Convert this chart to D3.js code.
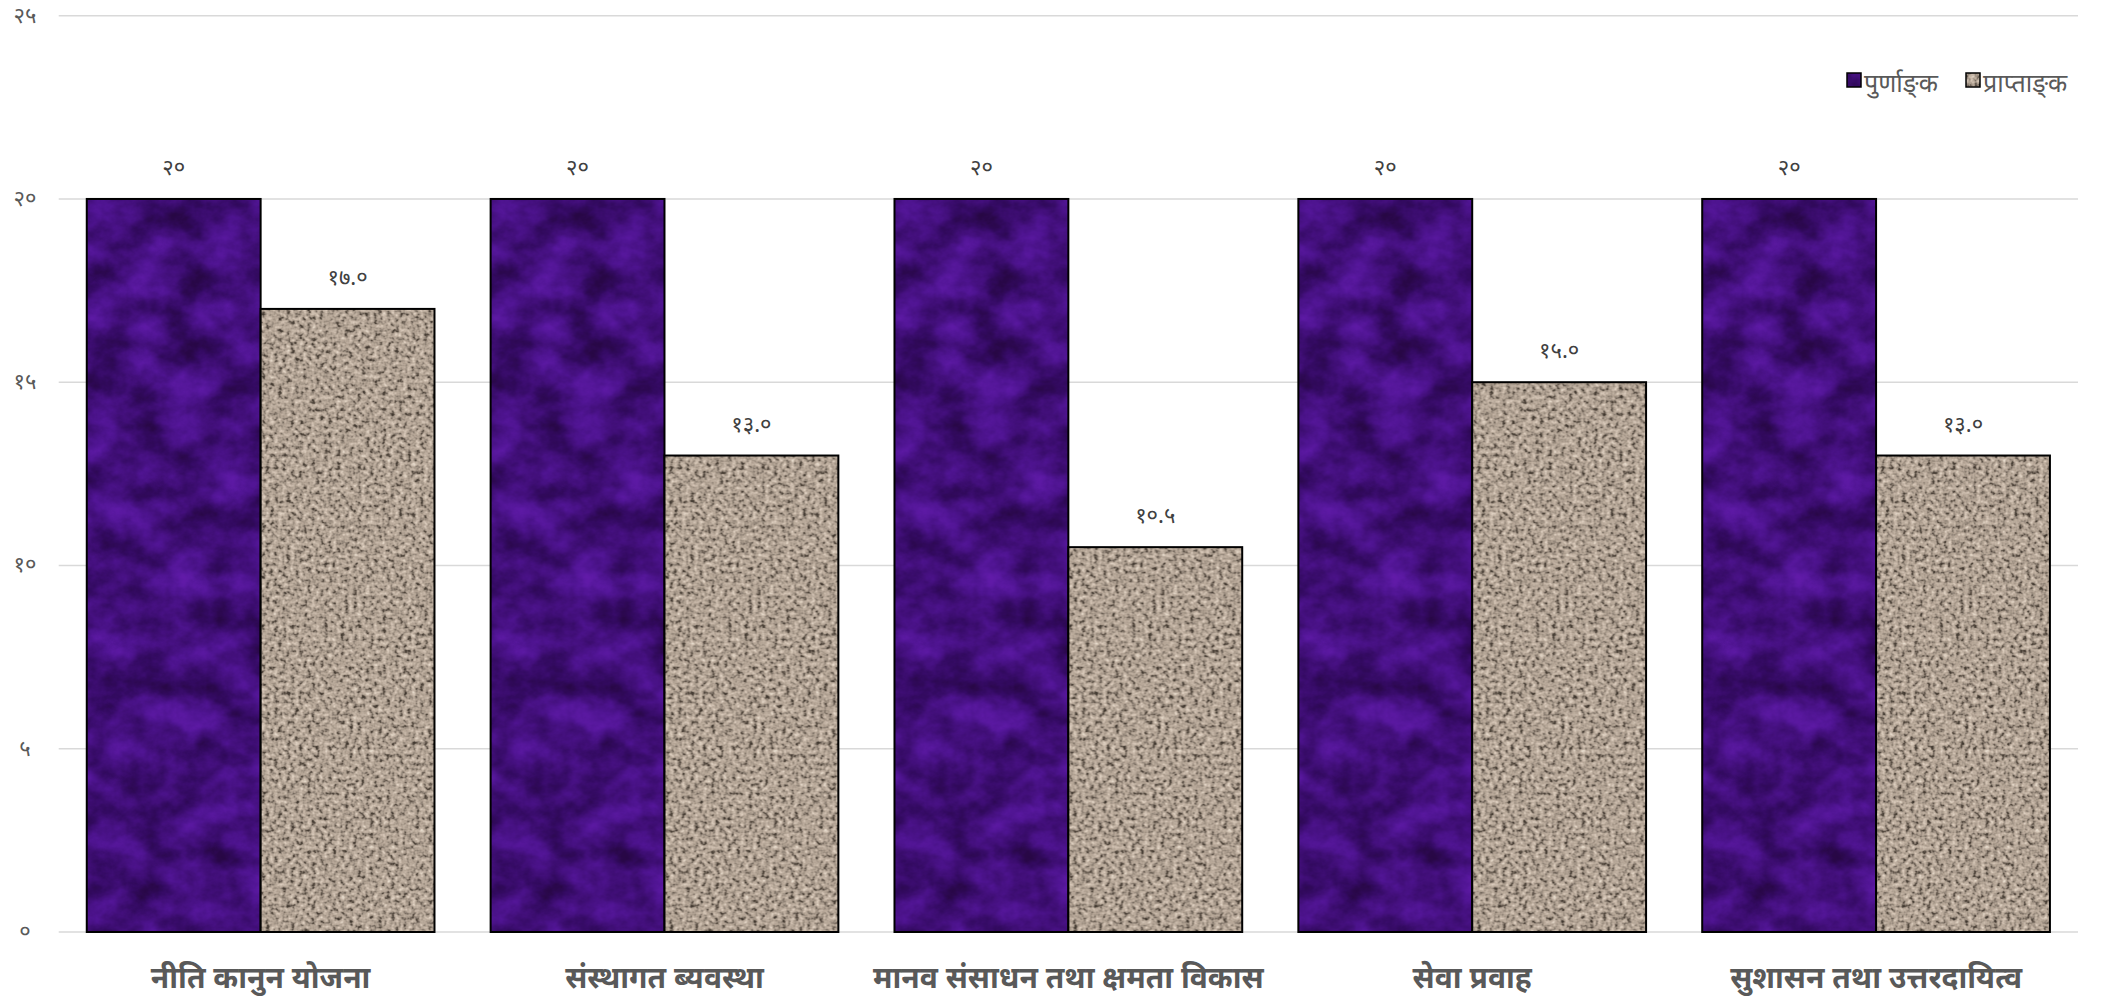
<!DOCTYPE html>
<html>
<head>
<meta charset="utf-8">
<script src="https://cdn.jsdelivr.net/npm/d3@7"></script>
<style>
  html, body { margin: 0; padding: 0; background: #fff; }
  svg { display: block; }
  text { font-family: "Noto Sans", "Noto Sans Devanagari", sans-serif; fill: #595959; }
</style>
</head>
<body>
<div class="barChart"></div>
<script>
// chart values
const categories = ["नीति कानुन योजना", "संस्थागत ब्यवस्था", "मानव संसाधन तथा क्षमता विकास", "सेवा प्रवाह", "सुशासन तथा उत्तरदायित्व"];
// ZWNJ keeps the halant visible as in the original
const seriesNames = ["पुर्णाङ्\u200Cक", "प्राप्ताङ्\u200Cक"];
const fullMarks = [20, 20, 20, 20, 20];
const obtainedMarks = [17.0, 13.0, 10.5, 15.0, 13.0];
const yTicks = [0, 5, 10, 15, 20, 25];
const yTickLabels = ["०", "५", "१०", "१५", "२०", "२५"];

const devDigits = "०१२३४५६७८९";
const toDev = (s) => String(s).replace(/[0-9]/g, (d) => devDigits[+d]);

const width = 2106, height = 1003;
const margin = {top: 15.7, bottom: 71, left: 58.7, right: 28};

const svg = d3.select(".barChart")
  .append("svg")
    .attr("width", width)
    .attr("height", height);

// textures
const defs = svg.append("defs");

const marble = defs.append("filter").attr("id", "marbleFx")
  .attr("x", 0).attr("y", 0).attr("width", 1).attr("height", 1)
  .attr("color-interpolation-filters", "sRGB");
marble.append("feTurbulence").attr("type", "fractalNoise")
  .attr("baseFrequency", "0.025 0.03").attr("numOctaves", 5).attr("seed", 11);
marble.append("feColorMatrix").attr("type", "matrix")
  .attr("values", "1 0 0 0 0  1 0 0 0 0  1 0 0 0 0  0 0 0 0 1");
const mct = marble.append("feComponentTransfer");
mct.append("feFuncR").attr("type", "table").attr("tableValues", "0.14 0.16 0.20 0.26 0.31 0.36 0.40");
mct.append("feFuncG").attr("type", "table").attr("tableValues", "0.03 0.03 0.04 0.06 0.08 0.10 0.11");
mct.append("feFuncB").attr("type", "table").attr("tableValues", "0.24 0.28 0.38 0.48 0.57 0.64 0.68");

const granite = defs.append("filter").attr("id", "graniteFx")
  .attr("x", 0).attr("y", 0).attr("width", 1).attr("height", 1)
  .attr("color-interpolation-filters", "sRGB");
granite.append("feTurbulence").attr("type", "fractalNoise")
  .attr("baseFrequency", "0.24").attr("numOctaves", 2).attr("seed", 3);
granite.append("feColorMatrix").attr("type", "matrix")
  .attr("values", "1 0 0 0 0  1 0 0 0 0  1 0 0 0 0  0 0 0 0 1");
const gct = granite.append("feComponentTransfer");
gct.append("feFuncR").attr("type", "table").attr("tableValues", "0.24 0.24 0.32 0.57 0.70 0.76 0.84 0.90 0.90");
gct.append("feFuncG").attr("type", "table").attr("tableValues", "0.21 0.21 0.28 0.52 0.64 0.70 0.78 0.86 0.86");
gct.append("feFuncB").attr("type", "table").attr("tableValues", "0.18 0.18 0.24 0.47 0.58 0.64 0.72 0.80 0.80");

const makePattern = (id, filterId) => {
  const p = defs.append("pattern").attr("id", id)
    .attr("patternUnits", "userSpaceOnUse")
    .attr("width", width).attr("height", height);
  p.append("rect").attr("width", width).attr("height", height)
    .attr("fill", "#fff")
    .attr("filter", `url(#${filterId})`);
};
makePattern("marble", "marbleFx");
makePattern("granite", "graniteFx");
const fills = ["url(#marble)", "url(#granite)"];

// scales
const x0 = d3.scaleBand()
  .domain(categories)
  .range([margin.left, width - margin.right])
  .paddingInner(0.139)
  .paddingOuter(0.0695);

const x1 = d3.scaleBand()
  .domain([0, 1])
  .range([0, x0.bandwidth()]);

const y = d3.scaleLinear()
  .domain([0, 25])
  .range([height - margin.bottom, margin.top]);

// gridlines
svg.append("g")
  .selectAll("line")
  .data(yTicks)
  .join("line")
    .attr("x1", margin.left)
    .attr("x2", width - margin.right)
    .attr("y1", (d) => y(d))
    .attr("y2", (d) => y(d))
    .attr("stroke", "#d9d9d9")
    .attr("stroke-width", 1.5);

// y axis labels
svg.append("g")
  .selectAll("text")
  .data(yTicks)
  .join("text")
    .attr("x", 25)
    .attr("y", (d) => y(d) + 7)
    .attr("text-anchor", "middle")
    .attr("font-size", 22)
    .text((d, i) => yTickLabels[i]);

// bars
const rows = categories.map((c, i) => ({cat: c, vals: [fullMarks[i], obtainedMarks[i]]}));

const groups = svg.append("g")
  .selectAll("g")
  .data(rows)
  .join("g")
    .attr("transform", (d) => `translate(${x0(d.cat)},0)`);

groups.selectAll("rect")
  .data((d) => d.vals.map((v, k) => ({k: k, v: v})))
  .join("rect")
    .attr("x", (d) => x1(d.k))
    .attr("y", (d) => y(d.v))
    .attr("width", x1.bandwidth())
    .attr("height", (d) => y(0) - y(d.v))
    .attr("fill", (d) => fills[d.k])
    .attr("stroke", "#000")
    .attr("stroke-width", 2);

// data labels
groups.selectAll("text.val")
  .data((d) => d.vals.map((v, k) => ({k: k, v: v})))
  .join("text")
    .attr("class", "val")
    .attr("x", (d) => x1(d.k) + x1.bandwidth() / 2)
    .attr("y", (d) => y(d.v) - 24)
    .attr("text-anchor", "middle")
    .attr("font-size", 22)
    .style("fill", "#404040")
    .text((d) => toDev(d.k === 0 ? d.v : d.v.toFixed(1)));

// x axis labels
svg.append("g")
  .selectAll("text")
  .data(categories)
  .join("text")
    .attr("x", (d) => x0(d) + x0.bandwidth() / 2)
    .attr("y", 988)
    .attr("text-anchor", "middle")
    .attr("font-size", 30)
    .attr("font-weight", "bold")
    .text((d) => d);

// legend
const legendPos = [{x: 1847, tx: 1864}, {x: 1966, tx: 1983}];
const legend = svg.append("g")
  .selectAll("g")
  .data(seriesNames)
  .join("g");

legend.append("rect")
  .attr("x", (d, i) => legendPos[i].x)
  .attr("y", 73)
  .attr("width", 14)
  .attr("height", 14)
  .attr("fill", (d, i) => fills[i])
  .attr("stroke", "#000")
  .attr("stroke-width", 1.5);

legend.append("text")
  .attr("x", (d, i) => legendPos[i].tx)
  .attr("y", 92)
  .attr("font-size", 25)
  .text((d) => d);
</script>
</body>
</html>
